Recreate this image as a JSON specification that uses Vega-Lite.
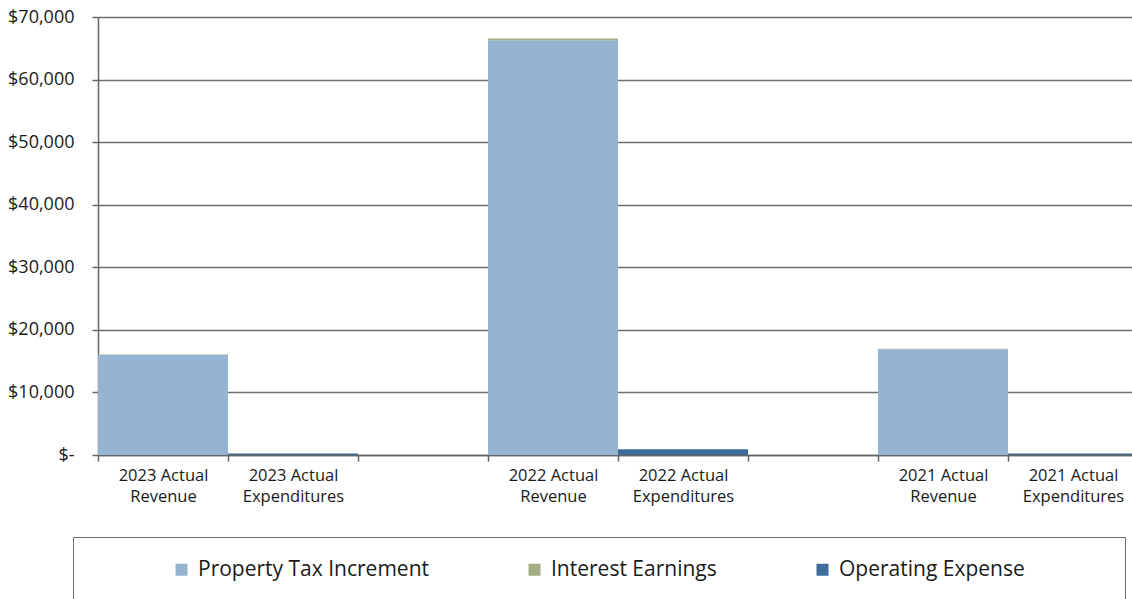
{
  "$schema": "https://vega.github.io/schema/vega-lite/v6.json",
  "width": 1034,
  "height": 438,
  "autosize": {"type": "none"},
  "padding": {"left": 98, "top": 17, "right": 0, "bottom": 144},
  "background": "white",
  "config": {
    "font": "Open Sans",
    "view": {"stroke": null}
  },
  "data": {
    "values": [
      {"category": "2023 Actual\nRevenue", "series": "Property Tax Increment", "amount": 16000},
      {"category": "2023 Actual\nRevenue", "series": "Interest Earnings", "amount": 60},
      {"category": "2023 Actual\nExpenditures", "series": "Operating Expense", "amount": 250},
      {"category": "2022 Actual\nRevenue", "series": "Property Tax Increment", "amount": 66300},
      {"category": "2022 Actual\nRevenue", "series": "Interest Earnings", "amount": 250},
      {"category": "2022 Actual\nExpenditures", "series": "Operating Expense", "amount": 900},
      {"category": "2021 Actual\nRevenue", "series": "Property Tax Increment", "amount": 16900},
      {"category": "2021 Actual\nRevenue", "series": "Interest Earnings", "amount": 100},
      {"category": "2021 Actual\nExpenditures", "series": "Operating Expense", "amount": 250}
    ]
  },
  "mark": {"type": "bar"},
  "encoding": {
    "x": {
      "field": "category",
      "type": "nominal",
      "scale": {
        "domain": ["2023 Actual\nRevenue", "2023 Actual\nExpenditures", " ", "2022 Actual\nRevenue", "2022 Actual\nExpenditures", "  ", "2021 Actual\nRevenue", "2021 Actual\nExpenditures"],
        "range": [0, 1040],
        "paddingInner": 0,
        "paddingOuter": 0
      },
      "axis": {
        "title": null,
        "labelAngle": 0,
        "labelExpr": "split(datum.label, '\\n')",
        "labelFontSize": 16.5,
        "labelLineHeight": 21,
        "labelColor": "#1a1a1a",
        "labelPadding": 6,
        "labelBaseline": "top",
        "tickBand": "extent",
        "tickSize": 6,
        "tickColor": "#666666",
        "tickWidth": 1.5,
        "domainColor": "#666666",
        "domainWidth": 1.5,
        "grid": false
      }
    },
    "y": {
      "field": "amount",
      "type": "quantitative",
      "aggregate": "sum",
      "stack": "zero",
      "scale": {"domain": [0, 70000], "nice": false},
      "axis": {
        "title": null,
        "values": [0, 10000, 20000, 30000, 40000, 50000, 60000, 70000],
        "labelExpr": "datum.value == 0 ? '$-' : '$' + format(datum.value, ',')",
        "labelFontSize": 18,
        "labelColor": "#1a1a1a",
        "labelPadding": 18,
        "tickSize": 6,
        "tickColor": "#666666",
        "tickWidth": 1.5,
        "domainColor": "#666666",
        "domainWidth": 1.5,
        "grid": true,
        "gridColor": "#6e6e6e",
        "gridWidth": 1.5
      }
    },
    "color": {
      "field": "series",
      "type": "nominal",
      "scale": {
        "domain": ["Property Tax Increment", "Interest Earnings", "Operating Expense"],
        "range": ["#94b4d2", "#a4ae86", "#3d6d98"]
      },
      "legend": {
        "title": " ",
        "titleOrient": "right",
        "titleFontSize": 10,
        "titlePadding": 78,
        "orient": "none",
        "legendX": -25,
        "legendY": 520,
        "direction": "horizontal",
        "gridAlign": "each",
        "padding": 22,
        "strokeColor": "#6e6e6e",
        "fillColor": "white",
        "symbolType": "square",
        "symbolSize": 144,
        "symbolStrokeWidth": 0,
        "symbolOffset": 76,
        "labelOffset": 6,
        "labelFontSize": 21,
        "labelColor": "#1a1a1a",
        "columnPadding": 19,
        "labelLimit": 500
      }
    },
    "order": {"field": "series", "sort": "descending"}
  }
}
